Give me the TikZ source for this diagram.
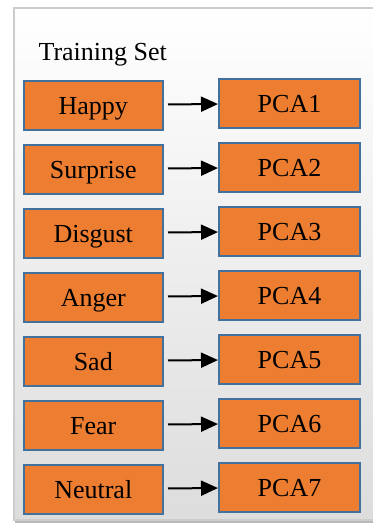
\documentclass[tikz,border=0pt]{standalone}
\usepackage{fontspec}
\setmainfont{Liberation Serif}
\usepackage{xcolor}
\definecolor{boxorange}{HTML}{ED7D31}
\definecolor{boxblue}{HTML}{41719C}
\definecolor{framegray}{rgb}{0.8,0.8,0.8}
\usetikzlibrary{positioning, arrows.meta}

\begin{document}
\begin{tikzpicture}
[x=1pt, y=1pt,
 >={Triangle[length=17pt,width=15pt]},
 node distance=13pt and 54pt,
 emotion/.style={draw=boxblue, line width=2pt, fill=boxorange,
 minimum width=139.5pt, minimum height=49pt, inner sep=0pt,
 text height=19pt, text depth=1pt,
 font=\fontsize{26}{30}\selectfont},
 pca/.style={emotion, minimum width=141pt},
 link/.style={->, line width=2pt, shorten <=4pt},
]

\useasboundingbox (0,0) rectangle (372,-527);

% frame with its shadow
\shade[top color=white, bottom color=gray!27, draw=framegray, line width=2pt]
 (14,-8) rectangle (390,-520);
\draw[gray!55, line width=2pt] (15,-522) -- (390,-522);

\node[anchor=base west, font=\fontsize{26}{30}\selectfont] (title) at (35,-60) {Training Set};

\node[emotion] (happy) at (93.25,-105) {Happy};
\node[emotion, below=of happy] (surprise) {Surprise};
\node[emotion, below=of surprise] (disgust) {Disgust};
\node[emotion, below=of disgust] (anger) {Anger};
\node[emotion, below=of anger] (sad) {Sad};
\node[emotion, below=of sad] (fear) {Fear};
\node[emotion, below=of fear] (neutral) {Neutral};

\node[pca, right=of happy, yshift=1.5pt] (pca1) {PCA1};
\node[pca, right=of surprise, yshift=1.5pt] (pca2) {PCA2};
\node[pca, right=of disgust, yshift=1.5pt] (pca3) {PCA3};
\node[pca, right=of anger, yshift=1.5pt] (pca4) {PCA4};
\node[pca, right=of sad, yshift=1.5pt] (pca5) {PCA5};
\node[pca, right=of fear, yshift=1.5pt] (pca6) {PCA6};
\node[pca, right=of neutral, yshift=1.5pt] (pca7) {PCA7};

\draw
(happy)    edge[link]  (pca1)
(surprise) edge[link]  (pca2)
(disgust)  edge[link]  (pca3)
(anger)    edge[link]  (pca4)
(sad)      edge[link]  (pca5)
(fear)     edge[link]  (pca6)
(neutral)  edge[link]  (pca7);
\end{tikzpicture}
\end{document}
